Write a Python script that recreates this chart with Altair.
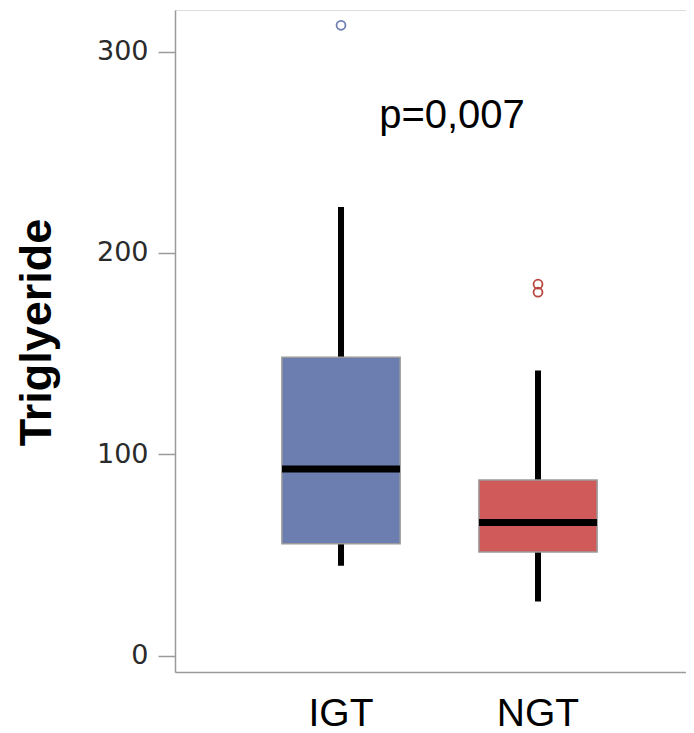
import altair as alt
import pandas as pd

# ---- data ----
groups = ["IGT", "NGT"]
q1 = [55.6, 51.6]
median = [92.8, 66.2]
q3 = [148.2, 87.3]
whisker_low = [44.7, 27.0]
whisker_high = [222.8, 141.6]
outlier_group = ["IGT", "NGT", "NGT"]
outlier_value = [313.0, 184.5, 180.5]
fill_colors = ["#6C7DB0", "#D05A5A"]
outlier_colors = ["#6F7FB5", "#B8453F"]
p_label = "p=0,007"
p_label_y = 262
y_ticks = [0, 100, 200, 300]

box_df = pd.DataFrame({
    "group": groups, "q1": q1, "median": median, "q3": q3,
    "low": whisker_low, "high": whisker_high,
})
out_df = pd.DataFrame({"group": outlier_group, "value": outlier_value})
txt_df = pd.DataFrame({"label": [p_label], "y": [p_label_y]})

x_scale = alt.Scale(domain=groups, paddingInner=0, paddingOuter=0.297, align=0.577)
y_scale = alt.Scale(domain=[-8, 320.6], nice=False, zero=False)

x_enc = alt.X("group:N", scale=x_scale, sort=groups, title=None,
              axis=alt.Axis(labelAngle=0, ticks=False, tickSize=0, labelPadding=22,
                            labelFont="Liberation Sans", labelFontSize=39,
                            labelColor="#000000", domainColor="#9a9a9a",
                            domainWidth=1.5))

y_axis = alt.Axis(values=y_ticks, grid=False, tickSize=17, tickColor="#9a9a9a",
                  tickWidth=1.5, domainColor="#9a9a9a", domainWidth=1.5,
                  labelFont="DejaVu Sans", labelFontSize=27, labelColor="#2a2a2a",
                  labelPadding=10, title="Triglyeride", titleFont="Liberation Sans",
                  titleFontSize=45, titleFontWeight="bold", titleColor="#000000",
                  titleAngle=270, titleX=-125, titleY=322, titleAlign="center",
                  titleBaseline="alphabetic")

base = alt.Chart(box_df)

whiskers = base.mark_rule(color="black", strokeWidth=6, opacity=1).encode(
    x=x_enc,
    y=alt.Y("low:Q", scale=y_scale, axis=y_axis),
    y2="high:Q",
)

boxes = base.mark_bar(width=alt.RelativeBandSize(0.6), stroke="#9a9a9a",
                      strokeWidth=1.5, opacity=1).encode(
    x=x_enc,
    y=alt.Y("q1:Q", scale=y_scale),
    y2="q3:Q",
    fill=alt.Fill("group:N", scale=alt.Scale(domain=groups, range=fill_colors),
                  legend=None),
)

medians = base.mark_tick(color="black", thickness=7, size=118, opacity=1,
                         orient="horizontal").encode(
    x=x_enc,
    y=alt.Y("median:Q", scale=y_scale),
)

outliers = alt.Chart(out_df).mark_point(shape="circle", filled=False, size=80,
                                        strokeWidth=1.8, opacity=1).encode(
    x=x_enc,
    y=alt.Y("value:Q", scale=y_scale),
    stroke=alt.Stroke("group:N", scale=alt.Scale(domain=groups, range=outlier_colors),
                      legend=None),
)

ptext = alt.Chart(txt_df).mark_text(font="Liberation Sans", fontSize=40,
                                    color="black", align="center",
                                    baseline="alphabetic").encode(
    x=alt.value(277),
    y=alt.Y("y:Q", scale=y_scale),
    text="label:N",
)

chart = alt.layer(whiskers, boxes, medians, outliers, ptext).properties(
    width=511, height=662,
    autosize=alt.AutoSizeParams(type="none"),
    padding={"left": 167, "top": 2, "right": 0, "bottom": 61},
).configure_view(stroke="#9a9a9a", strokeWidth=1.5).configure(background="white")

chart.save("out.html", embed_options={"renderer": "svg", "actions": False})
